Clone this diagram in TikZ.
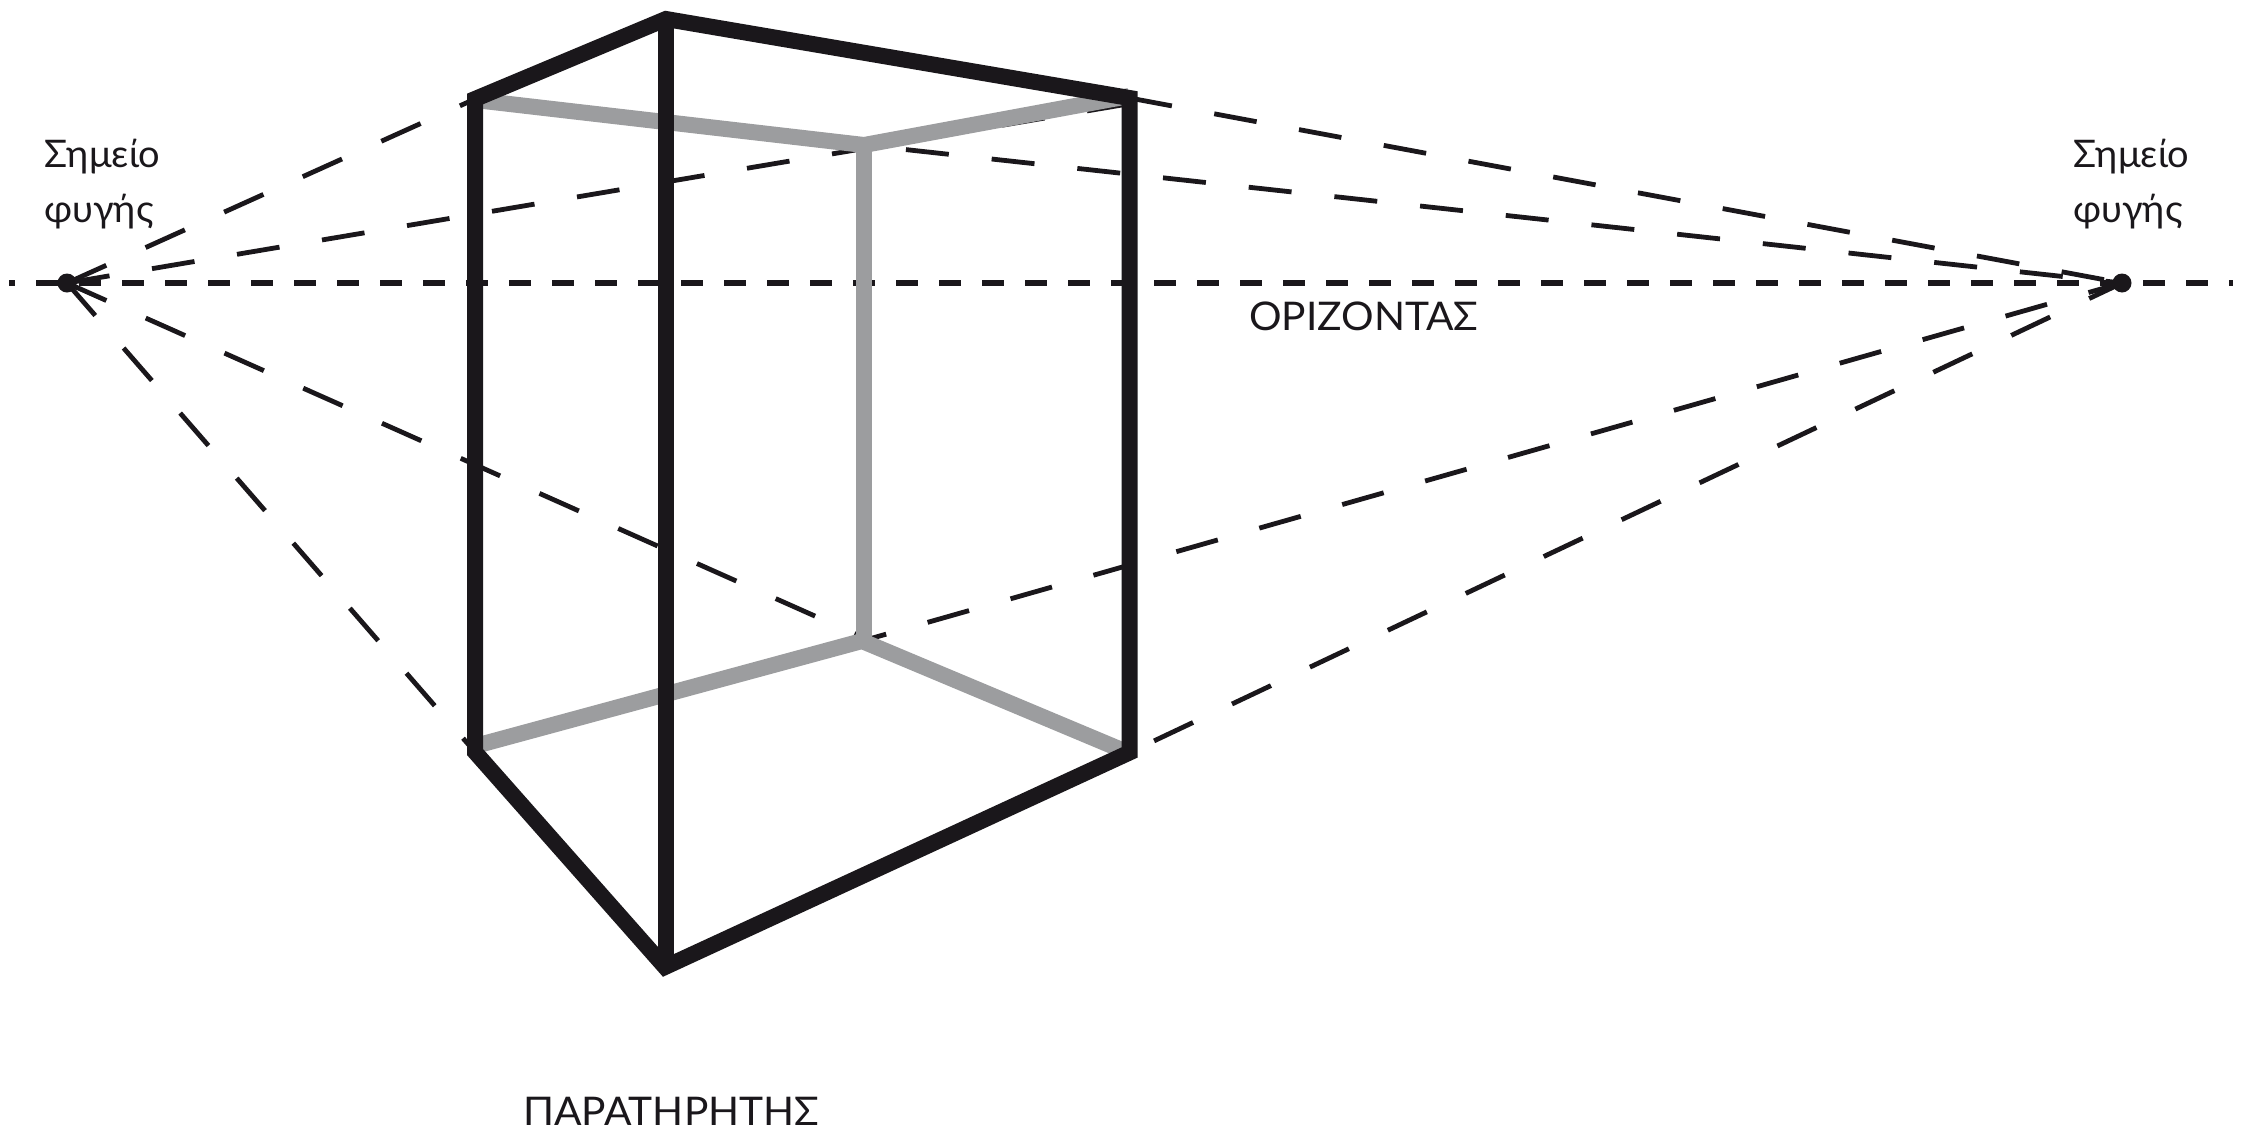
\documentclass[tikz,border=0pt]{standalone}
\usepackage{fontspec}
\setmainfont{Lato}
\newfontfamily\capsfont[FakeStretch=1.03]{Lato}
\definecolor{inkk}{HTML}{1A171B}
\definecolor{greyy}{HTML}{9C9D9F}
\tikzset{
  persp/.style={draw=inkk,line width=4.8pt,dash pattern=on 43.1pt off 43.1pt},
  horizonline/.style={draw=inkk,line width=5.3pt,dash pattern=on 21.6pt off 21.4pt,dash phase=16pt},
  hidden/.style={draw=greyy,line width=16pt,miter limit=10},
  front/.style={draw=inkk,line width=16pt,miter limit=10},
  vp/.style={circle,fill=inkk,inner sep=0pt,minimum size=19pt},
  lbl/.style={text=inkk,inner sep=0pt,font=\fontsize{38}{46}\selectfont},
  capslbl/.style={text=inkk,inner sep=0pt,font=\capsfont\fontsize{39.5}{47}\selectfont},
}
\begin{document}
\begin{tikzpicture}[x=1pt,y=-1pt]
\useasboundingbox (0,0) rectangle (2246,1136);
% box corners
\coordinate (tl) at (475,99);
\coordinate (ta) at (666,19);
\coordinate (tr) at (1129.5,98);
\coordinate (br) at (1129.5,752.5);
\coordinate (ba) at (665,967);
\coordinate (bv) at (666,960);
\coordinate (bl) at (475,752);
\coordinate (gtl) at (475,100);
\coordinate (gtr) at (1129,96);
\coordinate (gbl) at (475,746);
\coordinate (gbr) at (1129,753);
\coordinate (gt) at (864,145);
\coordinate (gb) at (862,641);
\coordinate (gv) at (864,641);
\coordinate (lt) at (1122,105);
\coordinate (lb) at (862,637);
\coordinate (hl) at (9,283);
\coordinate (hr) at (2233,283);
\node[vp] (vpL) at (67,283) {};
\node[vp] (vpR) at (2122,283) {};
% horizon
\draw[horizonline] (hl) -- (hr);
% left vanishing lines
\draw[persp] (vpL.center) -- (tl);
\draw[persp] (vpL.center) -- (lt);
\draw[persp] (vpL.center) -- (lb);
\draw[persp] (vpL.center) -- (bl);
% right vanishing lines
\draw[persp] (tr) -- (vpR.center);
\draw[persp,dash phase=44pt] (gt) -- (vpR.center);
\draw[persp,dash phase=18pt] (gb) -- (vpR.center);
\draw[persp,dash phase=59pt] (br) -- (vpR.center);
% hidden edges
\draw[hidden] (gt) -- (gv);
\draw[hidden] (gtl) -- (gt) -- (gtr);
\draw[hidden] (gbl) -- (gb) -- (gbr);
% front edges
\draw[front] (tl) -- (ta) -- (tr) -- (br) -- (ba) -- (bl) -- cycle;
\draw[front] (ta) -- (bv);
% labels
\node[lbl,anchor=base west] (sl1) at (44,167) {Σημείο};
\node[lbl,anchor=base west] (sl2) at (44,222) {φυγής};
\node[lbl,anchor=base west] (sr1) at (2073,167) {Σημείο};
\node[lbl,anchor=base west] (sr2) at (2073,222) {φυγής};
\node[capslbl,anchor=base west] (hz) at (1249,330) {ΟΡΙΖΟΝΤΑΣ};
\node[capslbl,anchor=base west] (ob) at (523,1125) {ΠΑΡΑΤΗΡΗΤΗΣ};
\end{tikzpicture}
\end{document}
